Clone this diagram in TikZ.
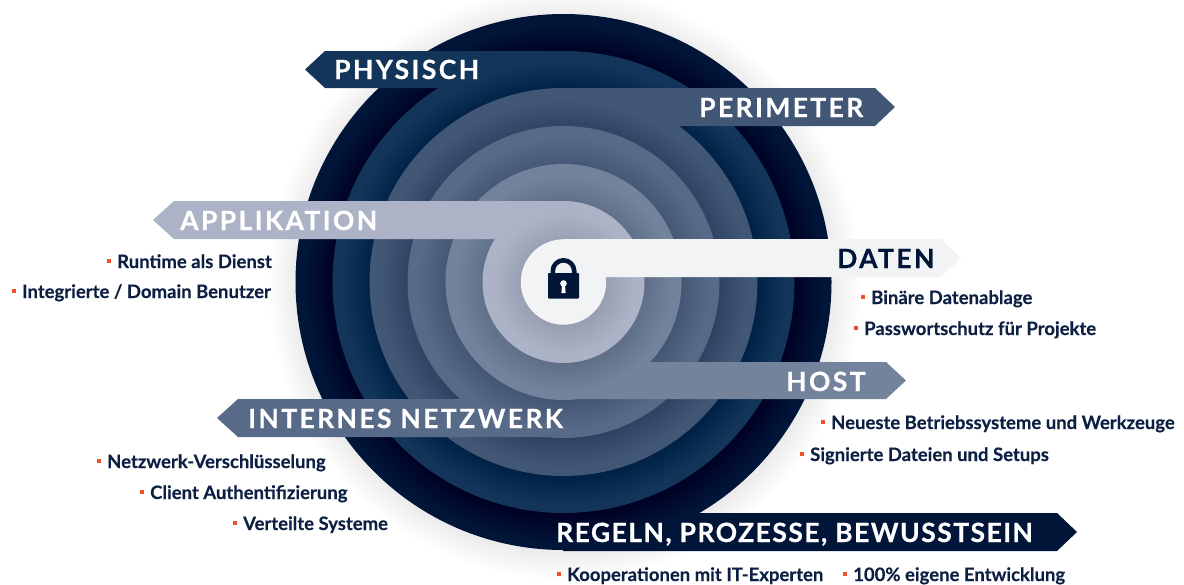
\documentclass[tikz,border=0pt]{standalone}
\usepackage{fontspec}
\setmainfont{Lato}[BoldFont=* Bold,BoldFeatures={FakeBold=0.25}]
\newfontfamily\lablfont{Lato}[BoldFont=* Bold,BoldFeatures={FakeBold=0.5},LetterSpace=9]
\newfontfamily\lablfonttight{Lato}[BoldFont=* Bold,BoldFeatures={FakeBold=0.5},LetterSpace=5.5]
\definecolor{cA}{HTML}{001538}
\definecolor{cB}{HTML}{13355A}
\definecolor{cC}{HTML}{425776}
\definecolor{cD}{HTML}{576A88}
\definecolor{cE}{HTML}{74839C}
\definecolor{cF}{HTML}{ADB3C6}
\definecolor{cG}{HTML}{F1F3F5}
\definecolor{txt}{HTML}{0D1F42}
\definecolor{bul}{HTML}{F04E23}
\tikzset{
  bandlabel/.style={anchor=base west,inner sep=0pt,font=\lablfont\bfseries\fontsize{26.5}{26.5}\selectfont,text=white},
  tightlabel/.style={anchor=base west,inner sep=0pt,font=\lablfonttight\bfseries\fontsize{26.5}{26.5}\selectfont,text=white},
  item/.style={anchor=base west,inner sep=0pt,font=\bfseries\fontsize{18.5}{18.5}\selectfont,text=txt},
  bulletbox/.style={fill=bul,minimum size=4.5pt,inner sep=0pt,draw=none}
}
\newcommand{\ringshadow}[1]{%
  \foreach \i in {1,...,20}{\fill[black,opacity=.005] (564.5,284) circle ({#1+\i*1.5});}}
\begin{document}
\begin{tikzpicture}[x=1pt,y=-1pt]
\useasboundingbox (0,0) rectangle (1184,584);
\coordinate (c) at (563.5,282);
% outer
\ringshadow{266}
\fill[cA] (c) circle (268);
\fill[cA] (563,513) -- (1057,513) -- (1077,532) -- (1057,551) -- (563,551) -- cycle;
% physisch
\ringshadow{229}
\fill[cB] (c) circle (231);
\fill[cB] (563,51) -- (325,51) -- (305,69.5) -- (325,88) -- (563,88) -- cycle;
% perimeter
\ringshadow{192}
\fill[cC] (c) circle (194);
\fill[cC] (563,88) -- (875,88) -- (895,107) -- (875,126) -- (563,126) -- cycle;
% internes netzwerk
\ringshadow{154}
\fill[cD] (c) circle (156);
\fill[cD] (563,399) -- (238,399) -- (217,418) -- (238,437) -- (563,437) -- cycle;
% host
\ringshadow{116}
\fill[cE] (c) circle (118);
\fill[cE] (563,362) -- (886,362) -- (906,380.5) -- (886,399) -- (563,399) -- cycle;
% applikation
\ringshadow{79}
\fill[cF] (c) circle (81);
\fill[cF] (563,201) -- (174,201) -- (153,220) -- (174,239) -- (563,239) -- cycle;
% daten
\ringshadow{41}
\fill[cG] (c) circle (42.7);
\fill[cG] (563,239) -- (941,239) -- (961,258) -- (941,277) -- (563,277) -- cycle;
% lock
\draw[cA,line width=4.6pt] (552.8,275) -- (552.8,271) arc (180:360:10.7) -- (574.2,275);
\fill[cA,rounded corners=.8pt] (548,273) rectangle (579,298.5);
\fill[white] (563.5,283.5) circle (3.3);
\fill[white] (562,284) -- (565,284) -- (565.6,293) -- (561.4,293) -- cycle;
% band labels
\node[bandlabel] (lphys) at (334,79) {PHYSISCH};
\node[bandlabel] (lperi) at (699,117) {PERIMETER};
\node[bandlabel] (lappl) at (180,230) {APPLIKATION};
\node[bandlabel,text=cA] (ldaten) at (837,268) {DATEN};
\node[bandlabel] (lhost) at (786,391) {HOST};
\node[bandlabel] (lnetz) at (248,428) {INTERNES NETZWERK};
\node[tightlabel] (lregeln) at (556,542) {REGELN, PROZESSE, BEWUSSTSEIN};
% items
\node[bulletbox] (b1) at (109,261) {};  \node[item] (t1) at (117,268) {Runtime als Dienst};
\node[bulletbox] (b2) at (14,291) {};   \node[item] (t2) at (22,298) {Integrierte / Domain Benutzer};
\node[bulletbox] (b3) at (863,297) {};  \node[item] (t3) at (871,304) {Binäre Datenablage};
\node[bulletbox] (b4) at (856,328) {};  \node[item] (t4) at (864,335) {Passwortschutz für Projekte};
\node[bulletbox] (b5) at (823,422) {};  \node[item] (t5) at (831,429) {Neueste Betriebssysteme und Werkzeuge};
\node[bulletbox] (b6) at (802,454) {};  \node[item] (t6) at (810,461) {Signierte Dateien und Setups};
\node[bulletbox] (b7) at (99,461) {};   \node[item] (t7) at (107,468) {Netzwerk-Verschlüsselung};
\node[bulletbox] (b8) at (142,492) {};  \node[item] (t8) at (150,499) {Client Authentifizierung};
\node[bulletbox] (b9) at (235,523) {};  \node[item] (t9) at (243,530) {Verteilte Systeme};
\node[bulletbox] (b10) at (559,574) {}; \node[item] (t10) at (567,581) {Kooperationen mit IT-Experten};
\node[bulletbox] (b11) at (845,574) {}; \node[item] (t11) at (853,581) {100\% eigene Entwicklung};
\end{tikzpicture}
\end{document}
